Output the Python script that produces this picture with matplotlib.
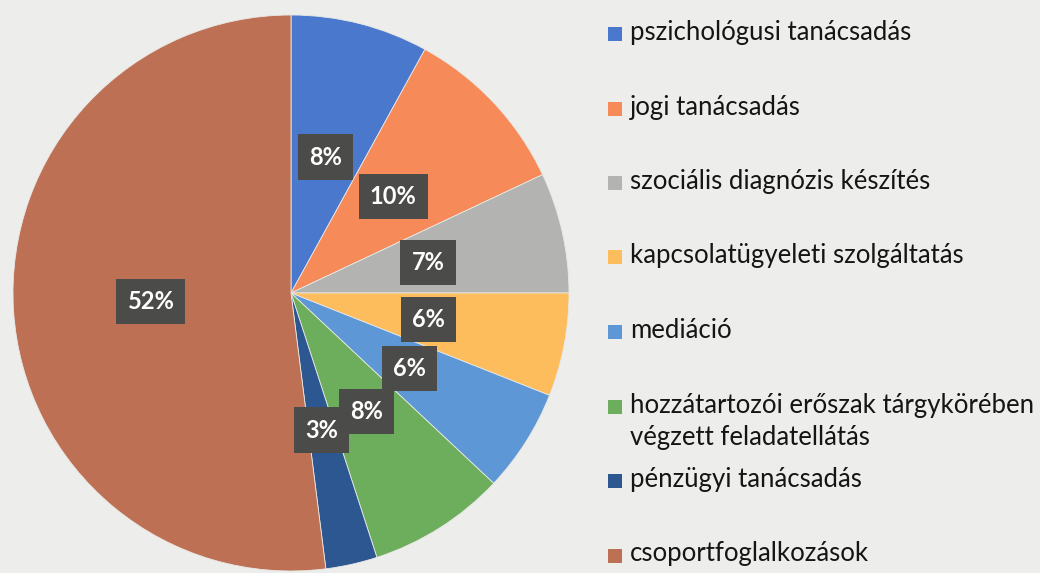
import matplotlib
matplotlib.use("Agg")
import matplotlib.pyplot as plt
from matplotlib.patches import Rectangle

categories = [
    "pszichológusi tanácsadás",
    "jogi tanácsadás",
    "szociális diagnózis készítés",
    "kapcsolatügyeleti szolgáltatás",
    "mediáció",
    "hozzátartozói erőszak tárgykörében\nvégzett feladatellátás",
    "pénzügyi tanácsadás",
    "csoportfoglalkozások",
]
shares = [8, 10, 7, 6, 6, 8, 3, 52]
colors = ["#4a78cd", "#f68a58", "#b3b3b1", "#fdbd5c",
          "#5d97d6", "#6cae5c", "#2d5791", "#bd7053"]

W, H = 1040, 573
bg = "#ededeb"
plt.rcParams["font.family"] = ["Lato", "DejaVu Sans"]

fig = plt.figure(figsize=(W / 100, H / 100), dpi=100, facecolor=bg)

# pie centre ~ (291, 293) px, radius ~ 278 px
cx, cy, r = 291, 293, 278
ax = fig.add_axes([(cx - r) / W, 1 - (cy + r) / H, 2 * r / W, 2 * r / H])
ax.set_facecolor(bg)

wedges, _, autotexts = ax.pie(
    shares, colors=colors, startangle=90, counterclock=False,
    autopct=lambda p: f"{round(p)}%", pctdistance=0.505, radius=1,
    wedgeprops=dict(edgecolor="#e8e8e6", linewidth=0.6),
)
for t in autotexts:
    t.set_color("white")
    t.set_fontsize(17)
    t.set_fontweight("bold")
    t.set_bbox(dict(boxstyle="square,pad=0.47", facecolor="#4b4b49", edgecolor="none"))
ax.set_xlim(-1, 1)
ax.set_ylim(-1, 1)
ax.set_aspect("auto")

# legend drawn by hand: rows ~75 px apart, wrapped lines 32 px apart
row0, step = 34, 74.5
for i, (lab, col) in enumerate(zip(categories, colors)):
    y = row0 + i * step
    fig.patches.append(Rectangle((608 / W, 1 - (y + 7) / H), 14 / W, 14 / H,
                                 transform=fig.transFigure, facecolor=col,
                                 edgecolor="none"))
    for j, line in enumerate(lab.split("\n")):
        fig.text(630 / W, 1 - (y + 6 + j * 32) / H, line, fontsize=18.5,
                 color="#151515", va="baseline", ha="left")

fig.savefig("out.png", dpi=100, facecolor=bg)
